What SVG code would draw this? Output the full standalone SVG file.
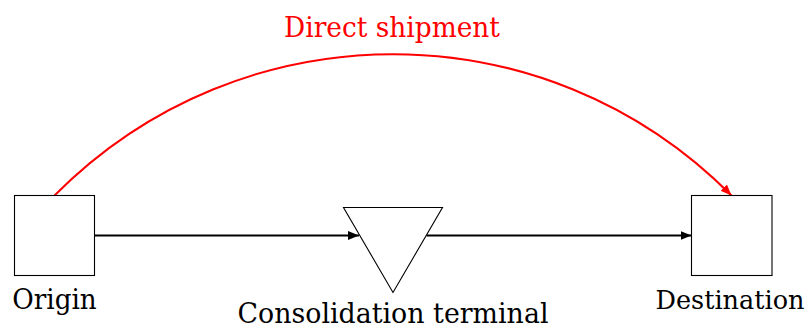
<svg xmlns="http://www.w3.org/2000/svg" width="811" height="329" viewBox="0 0 811 329">
<style>
.node{fill:#fff;stroke:#000;stroke-width:1.1}
text{font-family:"DejaVu Serif",serif;font-size:28px;fill:#000;text-anchor:middle}
.red{fill:#ff0000}
.edge{fill:none;stroke:#000;stroke-width:2}
.redge{fill:none;stroke:#ff0000;stroke-width:2}
</style>
<defs>
<marker id="ab" markerUnits="userSpaceOnUse" markerWidth="13" markerHeight="10" refX="11" refY="4.5" orient="auto" viewBox="0 0 13 10">
<path d="M0,0 L11,4.5 L0,9 Z" fill="#000"/>
</marker>
<marker id="ar" markerUnits="userSpaceOnUse" markerWidth="13" markerHeight="10" refX="11" refY="4.5" orient="auto" viewBox="0 0 13 10">
<path d="M0,0 L11,4.5 L0,9 Z" fill="#ff0000"/>
</marker>
</defs>
<g id="connectors">
<path class="edge" d="M94.5,235.5 L359,235.5" marker-end="url(#ab)"/>
<path class="edge" d="M426.5,235.5 L691.5,235.5" marker-end="url(#ab)"/>
<path class="redge" d="M54.5,195.5 C241.5,7 544.5,7 731.5,195.5" marker-end="url(#ar)"/>
<text class="red" x="392" y="37" textLength="216" lengthAdjust="spacingAndGlyphs">Direct shipment</text>
</g>
<g id="origin">
<rect class="node" x="14.5" y="195.5" width="80" height="80"/>
<text x="54.5" y="308.5" textLength="84.5" lengthAdjust="spacingAndGlyphs">Origin</text>
</g>
<g id="consolidation">
<polygon class="node" points="343.5,207.5 442.5,207.5 393,292.5"/>
<text x="393" y="323" textLength="311" lengthAdjust="spacingAndGlyphs">Consolidation terminal</text>
</g>
<g id="destination">
<rect class="node" x="691.5" y="195.5" width="80.5" height="80"/>
<text x="730" y="308.5" style="font-size:25.5px">Destination</text>
</g>
</svg>
